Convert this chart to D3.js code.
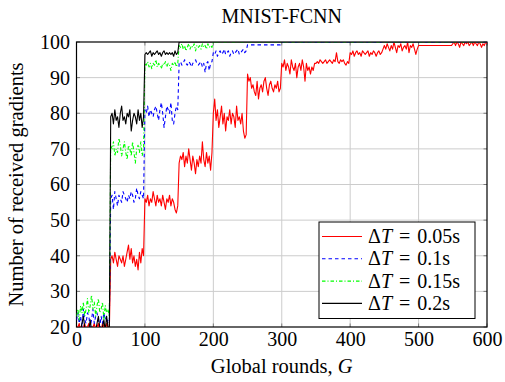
<!DOCTYPE html>
<html>
<head>
<meta charset="utf-8">
<script src="https://cdn.jsdelivr.net/npm/d3@7"></script>
<style>
  body { margin: 0; background: #fff; }
</style>
</head>
<body>
<svg id="chart" width="505" height="382"></svg>
<script>
// rounds are sampled every 2 from 0; the tails hold the flat parts as [round, value]
const roundStep = 2;
const xTicks = [0, 100, 200, 300, 400, 500, 600];
const yTicks = [20, 30, 40, 50, 60, 70, 80, 90, 100];
const labels = ["0.05s", "0.1s", "0.15s", "0.2s"];

const red = [
  19,20,21,19,18,20,21,19,20,21,19,18,20,21,19,20,21,18,19,21,20,19,21,20,19,            // 0
  39,40,38,41,39,37,40,39,38,40,37,39,41,43,39,42,38,40,37,39,36,41,38,42,40,            // 50
  56,55,57,54,56,55,58,56,54,57,55,56,54,57,55,53,56,55,57,54,56,55,53,52,54,            // 100
  66,68,67,69,65,68,66,70,67,64,68,66,63,67,65,68,66,72,67,65,69,66,68,64,69,            // 150
  80,84,78,81,76,79,82,77,80,75,79,78,81,77,80,79,76,82,78,79,77,80,75,73,74,            // 200
  91,89,90,87,88,86,85,89,84,87,88,86,89,90,87,85,88,89,87,86,88,87,89,86,87,            // 250
  94,93,95,92,94,93,91,95,93,92,94,90,93,94,92,95,93,89,94,92,93,91,93,92,94,            // 300
  94,94.5,94,95,94.5,94,94.5,95,94,94.5,95,94.5,94,95,94.5,97,94.5,94,95,94.5,95,94,93.5,94.5,94, // 350
  97,96.5,97.5,96,97,97.5,96.5,97,96,97.5,97,96.5,97,97.5,96,97,96.5,97.5,97,96,97,97.5,96.5,97,98, // 400
  99,98,99.5,98.5,97.5,99,98,100,98.5,97,99,98.5,99.5,97.5,98.5,99,98,100,97,99,98.5,99.5,98,96.5,98, // 450
  99,99,99,99,99,99,99,99,99,99,99,99,99,99,99,99,99,99,99,99,99,99,99,99,99,            // 500
  99.5,100,99,100,99.5,98.5,100,99.5,99,100,99.5,100,99,99.5,100,99,100,99.5,99,100,99.5,98.5,99.5,99,100 // 550
];
const redTail = [[600, 99.5]];

const blue = [
  22,24,21,23,20,25,22,21,24,23,20,22,25,21,23,24,22,20,23,21,24,22,23,21,22,
  56,57,53,58,56,54,57,56,55,58,57,56,55,57,56,58,57,55,56,59,57,56,58,57,56,
  81,80,82,79,81,80,79,81,82,80,78,81,83,80,76,79,82,81,80,83,78,77,80,82,81,
  94,94.5,93.5,94,95,94,93.5,94.5,94,93,94,94.5,95,94,93.5,94,94.5,93,94,91.5,94,94.5,92,94,94.5,
  97,96.5,97.5,96,97,97.5,96.5,97,98,96.5,97,97.5,96,97,97.5,96.5,97,97.5,98,96.5,97,97.5,98,97,97.5
];
const blueTail = [[250, 99.2], [298, 99.2], [300, 100], [600, 100]];

const green = [
  23,25,22,26,24,27,23,25,28,24,26,29,25,27,23,26,28,24,25,27,22,26,24,25,23,
  71,70,72,68,70,69,73,71,68,70,72,69,67,71,70,68,72,69,66,70,71,69,72,68,70,
  94,93.5,94.5,93,94,92.5,94,93.5,95,93,94,93.5,92.5,94,93.5,94.5,93,94,93.5,92,94,93.5,94.5,93,94,
  99,98.5,99.5,98,99,97.5,98.5,99.5,98,99,98.5,99.5,97.5,99,98.5,99,98,99.5,98.5,99,98,99.5,98.5,99,98.5
];
const greenTail = [[200, 100], [600, 100]];

const black = [
  19,19,20,19,21,23,20,19,19,19,22,19,20,19,19,21,23,20,19,20,22,19,23,20,19,
  79,80,77,81,78,79,76,80,82,78,79,77,80,79,81,75,78,80,79,77,81,78,80,76,79,
  96.5,97,96.5,97,97.5,96,97,96.5,97,97.5,96.5,97,96,97,97.5,96.5,97,96.5,97,96.5,97,96,97.5,96.5,97
];
const blackTail = [[150, 100], [600, 100]];

const series = [
  { name: labels[0], values: red, tail: redTail, color: "#ff0000", dash: null },
  { name: labels[1], values: blue, tail: blueTail, color: "#0000ff", dash: "3.5,3" },
  { name: labels[2], values: green, tail: greenTail, color: "#00ff00", dash: "3.5,2,1,2" },
  { name: labels[3], values: black, tail: blackTail, color: "#000000", dash: null }
];

const FONT = "'Liberation Serif', 'DejaVu Serif', serif";
const svg = d3.select("#chart");
const pLeft = 76.5, pRight = 487, pTop = 42, pBottom = 327;

const x = d3.scaleLinear().domain([0, 600]).range([pLeft, pRight]);
const y = d3.scaleLinear().domain([20, 100]).range([pBottom, pTop]);

// grid
svg.append("g")
  .selectAll("line")
  .data(xTicks.slice(1, -1))
  .join("line")
  .attr("x1", d => x(d)).attr("x2", d => x(d))
  .attr("y1", pTop).attr("y2", pBottom)
  .attr("stroke", "#cccccc").attr("stroke-width", 1);

svg.append("g")
  .selectAll("line")
  .data(yTicks.slice(1, -1))
  .join("line")
  .attr("x1", pLeft).attr("x2", pRight)
  .attr("y1", d => y(d)).attr("y2", d => y(d))
  .attr("stroke", "#cccccc").attr("stroke-width", 1);

// inner ticks on all four sides
const tickLen = 3.5;
const tk = svg.append("g").attr("stroke", "#666").attr("stroke-width", 0.8);
xTicks.forEach(t => {
  tk.append("line").attr("x1", x(t)).attr("x2", x(t)).attr("y1", pBottom).attr("y2", pBottom - tickLen);
  tk.append("line").attr("x1", x(t)).attr("x2", x(t)).attr("y1", pTop).attr("y2", pTop + tickLen);
});
yTicks.forEach(t => {
  tk.append("line").attr("x1", pLeft).attr("x2", pLeft + tickLen).attr("y1", y(t)).attr("y2", y(t));
  tk.append("line").attr("x1", pRight).attr("x2", pRight - tickLen).attr("y1", y(t)).attr("y2", y(t));
});

// frame
svg.append("rect")
  .attr("x", pLeft).attr("y", pTop)
  .attr("width", pRight - pLeft).attr("height", pBottom - pTop)
  .attr("fill", "none").attr("stroke", "#000").attr("stroke-width", 1.2);

// tick labels
const xAxis = svg.append("g")
  .attr("transform", `translate(0,${pBottom})`)
  .call(d3.axisBottom(x).tickValues(xTicks).tickSize(0).tickPadding(5));
const yAxis = svg.append("g")
  .attr("transform", `translate(${pLeft},0)`)
  .call(d3.axisLeft(y).tickValues(yTicks).tickSize(0).tickPadding(6.5));
[xAxis, yAxis].forEach(a => {
  a.attr("font-family", FONT).attr("font-size", 20);
  a.select(".domain").remove();
  a.selectAll("text").attr("fill", "#000");
});

// lines
svg.append("clipPath").attr("id", "plot-clip")
  .append("rect")
  .attr("x", pLeft).attr("y", pTop)
  .attr("width", pRight - pLeft).attr("height", pBottom - pTop);

const line = d3.line().x(d => x(d[0])).y(d => y(d[1]));

const plot = svg.append("g").attr("clip-path", "url(#plot-clip)");
series.forEach(s => {
  const pts = s.values.map((v, i) => [i * roundStep, v]).concat(s.tail);
  plot.append("path")
    .datum(pts)
    .attr("d", line)
    .attr("fill", "none")
    .attr("stroke", s.color)
    .attr("stroke-width", 1.1)
    .attr("stroke-linejoin", "round")
    .attr("stroke-dasharray", s.dash);
});

// title and axis titles
svg.append("text")
  .attr("x", (pLeft + pRight) / 2).attr("y", 23)
  .attr("text-anchor", "middle").attr("font-size", 20)
  .text("MNIST-FCNN");

const xl = svg.append("text")
  .attr("x", (pLeft + pRight) / 2).attr("y", 373)
  .attr("text-anchor", "middle").attr("font-size", 20.5);
xl.append("tspan").text("Global rounds, ");
xl.append("tspan").attr("font-style", "italic").text("G");

svg.append("text")
  .attr("transform", `translate(23,${(pTop + pBottom) / 2}) rotate(-90)`)
  .attr("text-anchor", "middle").attr("font-size", 20.5)
  .text("Number of received gradients");

// legend
const lg = svg.append("g");
lg.append("rect")
  .attr("x", 319).attr("y", 222)
  .attr("width", 156).attr("height", 96.5)
  .attr("fill", "#fff").attr("stroke", "#000").attr("stroke-width", 1);

series.forEach((s, i) => {
  const cy = 236.5 + i * 22.3;
  lg.append("line")
    .attr("x1", 322).attr("x2", 362)
    .attr("y1", cy).attr("y2", cy)
    .attr("stroke", s.color).attr("stroke-width", 1.1)
    .attr("stroke-dasharray", s.dash);
  const t = lg.append("text")
    .attr("x", 368).attr("y", cy + 6.5)
    .attr("font-size", 20);
  t.append("tspan").text("Δ");
  t.append("tspan").attr("font-style", "italic").text("T");
  t.append("tspan").attr("dx", 7).text("=");
  t.append("tspan").attr("dx", 7).text(s.name);
});

svg.selectAll("text").style("font-family", FONT).style("fill", "#000");
</script>
</body>
</html>
